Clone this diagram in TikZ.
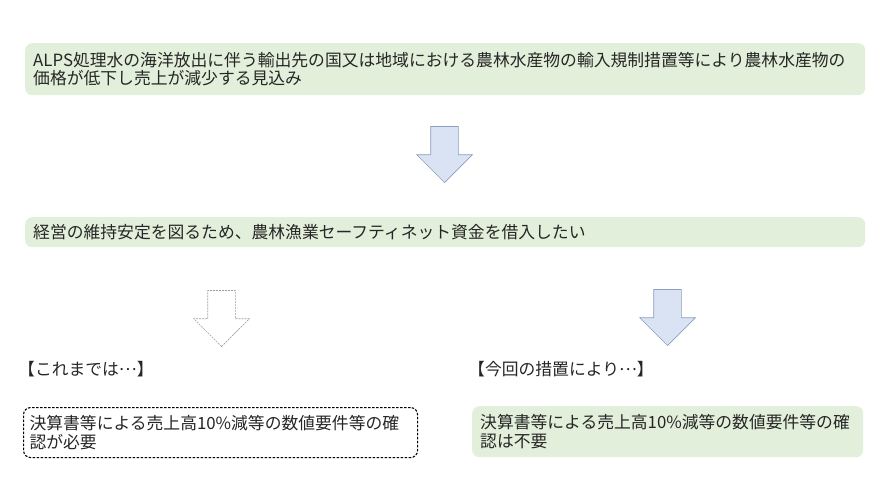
\documentclass[tikz,border=0pt]{standalone}
\usepackage{fontspec}
\setmainfont{Noto Sans CJK JP}
\usetikzlibrary{shapes.arrows}
\definecolor{boxgreen}{RGB}{226,239,218}
\definecolor{arrowblue}{RGB}{218,227,243}
\definecolor{arrowline}{RGB}{140,158,190}
\definecolor{textgray}{RGB}{38,38,38}
\newcommand{\jdots}{\raisebox{0.32em}{…}}

\begin{document}
\begin{tikzpicture}[x=1pt,y=-1pt,
  every node/.style={text=textgray,font=\fontsize{16.8}{18.5}\selectfont},
  green box/.style={rounded corners=7pt,fill=boxgreen,align=left,anchor=north west,
    inner xsep=8pt,inner ysep=0pt},
  dash box/.style={rounded corners=7pt,fill=white,draw=black,line width=1.1pt,
    dash pattern=on 2.5pt off 1.5pt,align=left,anchor=north west,inner xsep=6pt,inner ysep=0pt},
  down arrow/.style={single arrow,rotate=-90,anchor=tip,draw=arrowline,fill=arrowblue,line width=0.7pt,
    minimum height=56pt,minimum width=55pt,single arrow head extend=14pt,
    inner xsep=0pt,inner ysep=13.5pt},
  blank arrow/.style={down arrow,draw=gray!75,fill=white,dash pattern=on 2pt off 1pt},
  head label/.style={anchor=west,inner sep=0pt}]
  \useasboundingbox (0,0) rectangle (888,500);

  \node[green box,minimum width=840pt,minimum height=52pt,text width=824pt] (cause) at (25,43)
    {ALPS処理水の海洋放出に伴う輸出先の国又は地域における農林水産物の輸入規制措置等により農林水産物の\\価格が低下し売上が減少する見込み};
  \node[down arrow] (arr1) at (444.5,183) {};

  \node[green box,minimum width=840pt,minimum height=30pt,text width=824pt] (want) at (25,217)
    {経営の維持安定を図るため、農林漁業セーフティネット資金を借入したい};

  \node[blank arrow] (arrold) at (221.5,347) {};
  \node[down arrow] (arrnew) at (667.5,346) {};

  \node[head label] (oldhead) at (18,369) {【これまでは\jdots】};
  \node[head label] (newhead) at (468,369) {【今回の措置により\jdots】};

  \node[dash box,minimum width=394pt,minimum height=50pt,text width=382pt] (oldreq) at (23,407)
    {決算書等による売上高10\%減等の数値要件等の確\\認が必要};
  \node[green box,minimum width=391pt,minimum height=51pt,text width=375pt] (newreq) at (472,406)
    {決算書等による売上高10\%減等の数値要件等の確\\認は不要};
\end{tikzpicture}
\end{document}
